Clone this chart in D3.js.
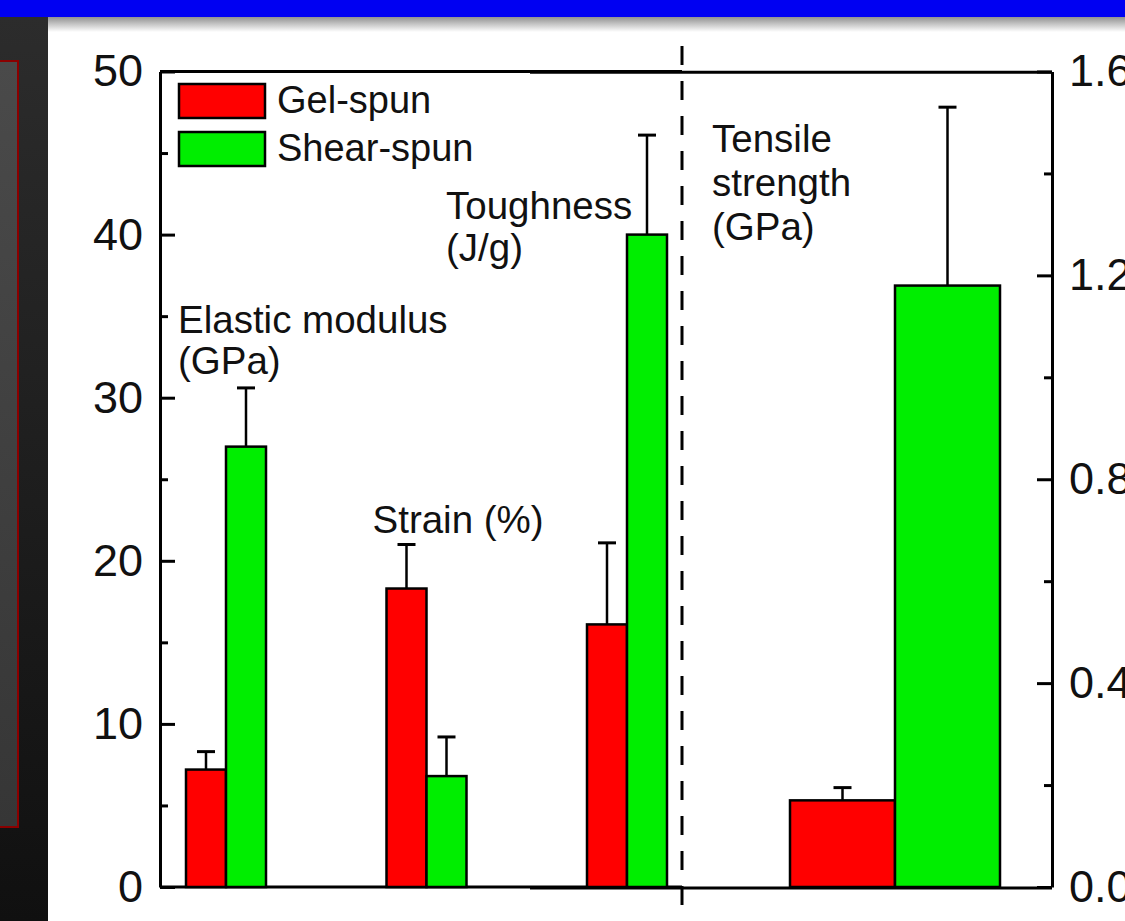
<!DOCTYPE html>
<html>
<head>
<meta charset="utf-8">
<script src="https://cdn.jsdelivr.net/npm/d3@7"></script>
<style>
  body { margin: 0; background: #fff; }
  svg { display: block; font-family: "Liberation Sans", Arial, sans-serif; }
</style>
</head>
<body>
<svg id="chart"></svg>
<script>
// data
var leftCategories = ["Elastic modulus", "Strain", "Toughness"];
var rightCategories = ["Tensile strength"];
var seriesNames = ["Gel-spun", "Shear-spun"];
var seriesColors = ["#ff0000", "#00ee00"];

var gelValues = [7.2, 18.3, 16.1];
var gelErrors = [1.1, 2.7, 5.0];
var shearValues = [27.0, 6.8, 40.0];
var shearErrors = [3.6, 2.4, 6.1];

var tensileValues = [0.17, 1.18];   // gel, shear
var tensileErrors = [0.025, 0.35];

var leftTicks = [0, 10, 20, 30, 40, 50];
var leftMinor = [5, 15, 25, 35, 45];
var rightTicks = [0.0, 0.4, 0.8, 1.2, 1.6];
var rightMinor = [0.2, 0.6, 1.0, 1.4];

var annotations = [
    { cat: "Elastic modulus", lines: ["Elastic modulus", "(GPa)"] },
    { cat: "Strain", lines: ["Strain (%)"] },
    { cat: "Toughness", lines: ["Toughness", "(J/g)"] },
    { cat: "Tensile strength", lines: ["Tensile", "strength", "(GPa)"] }
];

var W = 1125, H = 921;
var svg = d3.select("#chart").attr("width", W).attr("height", H);

// ---- slide background ----
var defs = svg.append("defs");
var sh = defs.append("linearGradient").attr("id", "shadow").attr("x1", 0).attr("y1", 0).attr("x2", 0).attr("y2", 1);
sh.append("stop").attr("offset", 0).attr("stop-color", "#8a8a8a");
sh.append("stop").attr("offset", 1).attr("stop-color", "#ffffff");
var dark = defs.append("linearGradient").attr("id", "dark").attr("x1", 0).attr("y1", 0).attr("x2", 0).attr("y2", 1);
dark.append("stop").attr("offset", 0).attr("stop-color", "#2c2c2c");
dark.append("stop").attr("offset", 1).attr("stop-color", "#101010");
var box = defs.append("linearGradient").attr("id", "box").attr("x1", 0).attr("y1", 0).attr("x2", 0).attr("y2", 1);
box.append("stop").attr("offset", 0).attr("stop-color", "#4a4a4a");
box.append("stop").attr("offset", 1).attr("stop-color", "#363636");

svg.append("rect").attr("x", 0).attr("y", 0).attr("width", W).attr("height", H).attr("fill", "#fff");
svg.append("rect").attr("x", 48).attr("y", 16).attr("width", W - 48).attr("height", 16).attr("fill", "url(#shadow)");
svg.append("rect").attr("x", 0).attr("y", 16).attr("width", 48).attr("height", H - 16).attr("fill", "url(#dark)");
svg.append("rect").attr("x", -4).attr("y", 61).attr("width", 22).attr("height", 766)
    .attr("fill", "url(#box)").attr("stroke", "#8b0000").attr("stroke-width", 2);
svg.append("rect").attr("x", 0).attr("y", 0).attr("width", W).attr("height", 17).attr("fill", "#0000f2");

// ---- scales ----
var plotTop = 71.5, plotBottom = 887;
var yLeft = d3.scaleLinear().domain([0, 50]).range([plotBottom, plotTop]);
var yRight = d3.scaleLinear().domain([0, 1.6]).range([plotBottom, plotTop]);

var xLeft = d3.scalePoint().domain(leftCategories).range([225, 626]);
var xRight = d3.scalePoint().domain(rightCategories).range([895, 895]);
var xSubLeft = d3.scaleBand().domain(seriesNames).range([-39, 41]);
var xSubRight = d3.scaleBand().domain(seriesNames).range([-105, 105]);

var leftX0 = 160, leftX1 = 682, rightX0 = 530, rightX1 = 1052;

// ---- frames ----
var frame = svg.append("g").attr("fill", "none").attr("stroke", "#000").attr("stroke-width", 3);
frame.append("line").attr("x1", leftX0).attr("x2", leftX1).attr("y1", plotTop).attr("y2", plotTop);
frame.append("line").attr("x1", leftX0).attr("x2", leftX1).attr("y1", plotBottom).attr("y2", plotBottom);
frame.append("line").attr("x1", rightX0).attr("x2", rightX1).attr("y1", plotTop + 0.8).attr("y2", plotTop + 0.8);
frame.append("line").attr("x1", rightX0).attr("x2", rightX1).attr("y1", plotBottom + 1).attr("y2", plotBottom + 1);

// left axis (ticks inside)
svg.append("g").attr("transform", "translate(" + leftX0 + ",0)")
    .call(d3.axisLeft(yLeft).tickValues(leftTicks).tickSize(-15).tickSizeOuter(0).tickPadding(17).tickFormat(d3.format("d")));
svg.append("g").attr("transform", "translate(" + leftX0 + ",0)")
    .call(d3.axisLeft(yLeft).tickValues(leftMinor).tickSize(-8).tickFormat(""))
    .select(".domain").remove();

// right axis (ticks inside)
svg.append("g").attr("transform", "translate(" + rightX1 + ",0)")
    .call(d3.axisRight(yRight).tickValues(rightTicks).tickSize(-15).tickSizeOuter(0).tickPadding(17).tickFormat(d3.format(".1f")));
svg.append("g").attr("transform", "translate(" + rightX1 + ",0)")
    .call(d3.axisRight(yRight).tickValues(rightMinor).tickSize(-8).tickFormat(""))
    .select(".domain").remove();

svg.selectAll(".domain").attr("stroke", "#000").attr("stroke-width", 3);
svg.selectAll(".tick line").attr("stroke", "#000").attr("stroke-width", 3);
svg.selectAll(".tick text").attr("font-size", 45).attr("fill", "#111")
    .attr("font-family", "'Liberation Sans', Arial, sans-serif");

// ---- bars ----
var leftRows = leftCategories.map(function (c, i) {
    return [
        { cat: c, s: seriesNames[0], v: gelValues[i], e: gelErrors[i], side: "L" },
        { cat: c, s: seriesNames[1], v: shearValues[i], e: shearErrors[i], side: "L" }
    ];
});
var rightRows = [seriesNames.map(function (s, j) {
    return { cat: rightCategories[0], s: s, v: tensileValues[j], e: tensileErrors[j], side: "R" };
})];
var rows = d3.merge(leftRows.concat(rightRows));

function bx(d) { return d.side === "L" ? xLeft(d.cat) + xSubLeft(d.s) : xRight(d.cat) + xSubRight(d.s); }
function bw(d) { return d.side === "L" ? xSubLeft.bandwidth() : xSubRight.bandwidth(); }
function by(d) { return d.side === "L" ? yLeft : yRight; }

// error bars (drawn under the bar tops)
var eb = svg.append("g").attr("stroke", "#000").attr("stroke-width", 2.5);
eb.selectAll("line.v").data(rows).enter().append("line")
    .attr("x1", function (d) { return bx(d) + bw(d) / 2; })
    .attr("x2", function (d) { return bx(d) + bw(d) / 2; })
    .attr("y1", function (d) { return by(d)(d.v); })
    .attr("y2", function (d) { return by(d)(d.v + d.e); });
eb.selectAll("line.c").data(rows).enter().append("line")
    .attr("x1", function (d) { return bx(d) + bw(d) / 2 - 9; })
    .attr("x2", function (d) { return bx(d) + bw(d) / 2 + 9; })
    .attr("y1", function (d) { return by(d)(d.v + d.e); })
    .attr("y2", function (d) { return by(d)(d.v + d.e); })
    .attr("stroke-width", 3);

svg.append("g").selectAll("rect").data(rows).enter().append("rect")
    .attr("x", bx)
    .attr("width", bw)
    .attr("y", function (d) { return by(d)(d.v); })
    .attr("height", function (d) { return plotBottom - by(d)(d.v); })
    .attr("fill", function (d) { return seriesColors[seriesNames.indexOf(d.s)]; })
    .attr("stroke", "#000").attr("stroke-width", 2.5);

// ---- dashed divider ----
svg.append("line").attr("x1", leftX1).attr("x2", leftX1).attr("y1", 46).attr("y2", 906)
    .attr("stroke", "#000").attr("stroke-width", 3).attr("stroke-dasharray", "19,16");

// ---- legend ----
var legend = svg.append("g").attr("transform", "translate(179,84)");
seriesNames.forEach(function (s, i) {
    var g = legend.append("g").attr("transform", "translate(0," + i * 48 + ")");
    g.append("rect").attr("width", 86).attr("height", 34).attr("fill", seriesColors[i])
        .attr("stroke", "#000").attr("stroke-width", 2.5);
    g.append("text").attr("x", 98).attr("y", 29).attr("font-size", 38).attr("fill", "#111").text(s);
});

// ---- annotations ----
var annoPos = {
    "Elastic modulus": { x: xLeft("Elastic modulus") - 47, y: 333, lh: 41 },
    "Strain": { x: xLeft("Strain") - 53, y: 533, lh: 41 },
    "Toughness": { x: xLeft("Toughness") - 180, y: 219, lh: 42 },
    "Tensile strength": { x: xRight("Tensile strength") - 183, y: 152, lh: 44 }
};
annotations.forEach(function (a) {
    var p = annoPos[a.cat];
    var t = svg.append("text").attr("font-size", 38.5).attr("fill", "#111");
    a.lines.forEach(function (l, i) {
        t.append("tspan").attr("x", p.x).attr("y", p.y + i * p.lh).text(l);
    });
});
</script>
</body>
</html>
